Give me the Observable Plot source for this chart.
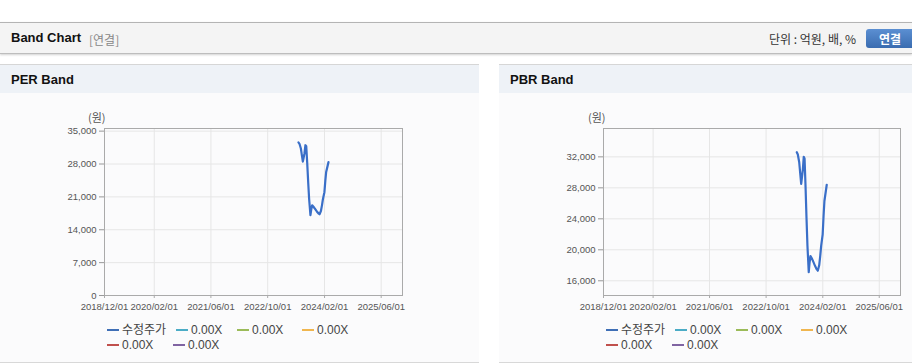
<!DOCTYPE html>
<html><head><meta charset="utf-8">
<script src="https://cdn.jsdelivr.net/npm/d3@7"></script>
<script src="https://cdn.jsdelivr.net/npm/@observablehq/plot@0.6"></script>
<style>
body{margin:0;background:#fff;font-family:"Liberation Sans","Noto Sans CJK KR",sans-serif;}
#page{position:relative;width:912px;height:364px;overflow:hidden;background:#fff;}
.abs{position:absolute;}
.hdr{left:0;top:22px;width:912px;height:30px;background:#f4f4f4;border-top:1px solid #b4b4b4;border-bottom:1px solid #bdbdbd;box-shadow:0 1px 2px rgba(0,0,0,0.18);}
.ptitle{top:64px;height:28px;background:#eef2f7;border-top:1px solid #d6d6d6;}
.pbody{top:93px;height:269px;background:#fbfbfc;border-bottom:1px solid #d8d8d8;}
.bold{font-weight:bold;font-size:13px;color:#111;}
.lg{font-family:"Liberation Sans","Noto Sans CJK KR",sans-serif;font-size:12px;color:#444;white-space:nowrap;line-height:14px;height:14px;}
.sw{display:inline-block;width:12px;height:2px;vertical-align:middle;margin-right:3px;position:relative;top:-1px;}
.ylab{font-family:"Noto Sans CJK KR",sans-serif;font-size:11px;color:#555;}
</style></head>
<body><div id="page">
<div class="abs hdr"></div>
<div class="abs bold" style="left:11px;top:30px;">Band Chart</div>
<div class="abs" style="left:89px;top:31px;font-size:12px;color:#888;font-family:'Noto Sans CJK KR',sans-serif;">[연결]</div>
<div class="abs" style="left:769px;top:30px;font-size:12px;color:#333;font-family:'Noto Sans CJK KR',sans-serif;">단위 : 억원, 배, %</div>
<div class="abs" style="left:866px;top:29px;width:50px;height:19px;border-radius:3px;background:linear-gradient(#5b8fd2,#3a6cb0);color:#fff;font-weight:bold;font-size:12px;line-height:19px;text-indent:13px;font-family:'Noto Sans CJK KR',sans-serif;">연결</div>

<div class="abs ptitle" style="left:0;width:479px;"></div>
<div class="abs ptitle" style="left:499px;width:413px;"></div>
<div class="abs pbody" style="left:0;width:479px;"></div>
<div class="abs pbody" style="left:499px;width:413px;"></div>
<div class="abs bold" style="left:11px;top:72px;">PER Band</div>
<div class="abs bold" style="left:510px;top:72px;">PBR Band</div>
<div class="abs ylab" style="left:88px;top:109px;">(원)</div>
<div class="abs ylab" style="left:588px;top:109px;">(원)</div>
<div id="c1" class="abs" style="left:0;top:110px;"></div>
<div id="c2" class="abs" style="left:499px;top:110px;"></div>
<div id="lg1"></div><div id="lg2"></div>
</div>
<script>
const priceDates = ["2023-06-22","2023-07-01","2023-07-13","2023-07-22","2023-07-30","2023-08-06","2023-08-13","2023-08-21","2023-08-28","2023-09-05","2023-09-14","2023-09-22","2023-10-03","2023-10-10","2023-10-18","2023-10-29","2023-11-10","2023-11-27","2023-12-10","2023-12-20","2024-01-01","2024-01-10","2024-01-18","2024-01-31","2024-02-08","2024-02-15","2024-03-06"];
const prices = [32600,32300,31300,29800,28500,29400,30300,32000,31800,28400,24000,20500,17100,18300,19200,18900,18500,17900,17500,17300,18000,19200,20500,22000,24500,26300,28400];
const xTickLabels = ["2018/12/01","2020/02/01","2021/06/01","2022/10/01","2024/02/01","2025/06/01"];
const xDomainLabels = ["2018/12/01","2025/12/01"];
const perTicks = [0,7000,14000,21000,28000,35000];
const perDomain = [0,35560];
const pbrTicks = [16000,20000,24000,28000,32000];
const pbrDomain = [14100,35660];
const legendLabels = ["수정주가","0.00X","0.00X","0.00X","0.00X","0.00X"];
const legendColors = ["#3f6fb6","#4bacc6","#9bbb59","#f0b64f","#c0504d","#8064a2"];
const lineColor = "#3a6fc8";

const parse = d3.utcParse("%Y/%m/%d");
const fmt = d3.utcFormat("%Y/%m/%d");
const xTicks = xTickLabels.map(parse);
const xDomain = xDomainLabels.map(parse);
const data = priceDates.map((d,i)=>({date:d3.utcParse("%Y-%m-%d")(d), price:prices[i]}));

function chart(width, marginRight, yTicks, yDomain){
  return Plot.plot({
    width, height:210, marginLeft:104, marginRight, marginTop:18, marginBottom:25,
    style:{fontFamily:"Liberation Sans, sans-serif", fontSize:"9.5px", color:"#555", background:"transparent"},
    x:{type:"utc", domain:xDomain},
    y:{domain:yDomain},
    marks:[
      Plot.gridX(xTicks,{stroke:"#e6e6e6", strokeOpacity:1}),
      Plot.gridY(yTicks,{stroke:"#e6e6e6", strokeOpacity:1}),
      Plot.frame({stroke:"#aaaaaa"}),
      Plot.axisX(xTicks,{tickSize:3, tickPadding:5, tickFormat:fmt, label:null, stroke:"#aaa", fill:"#555"}),
      Plot.axisY(yTicks,{tickSize:5, tickPadding:3, tickFormat:d3.format(","), label:null, stroke:"#999", fill:"#555"}),
      Plot.lineY(data,{x:"date", y:"price", stroke:lineColor, strokeWidth:2.2})
    ]
  });
}
document.getElementById("c1").append(chart(480,78,perTicks,perDomain));
document.getElementById("c2").append(chart(413,12,pbrTicks,pbrDomain));

function legend(id, offsetX){
  const pos = [[107,323],[176,323],[237,323],[302,323],[107,338],[173,338]];
  const el = document.getElementById(id);
  legendLabels.forEach((t,i)=>{
    const d = document.createElement("div");
    d.className = "abs lg";
    d.style.left = (pos[i][0]+offsetX)+"px";
    d.style.top = pos[i][1]+"px";
    d.innerHTML = `<span class="sw" style="background:${legendColors[i]}"></span>${t}`;
    el.append(d);
  });
}
legend("lg1",0);
legend("lg2",499);
</script>
</body></html>
